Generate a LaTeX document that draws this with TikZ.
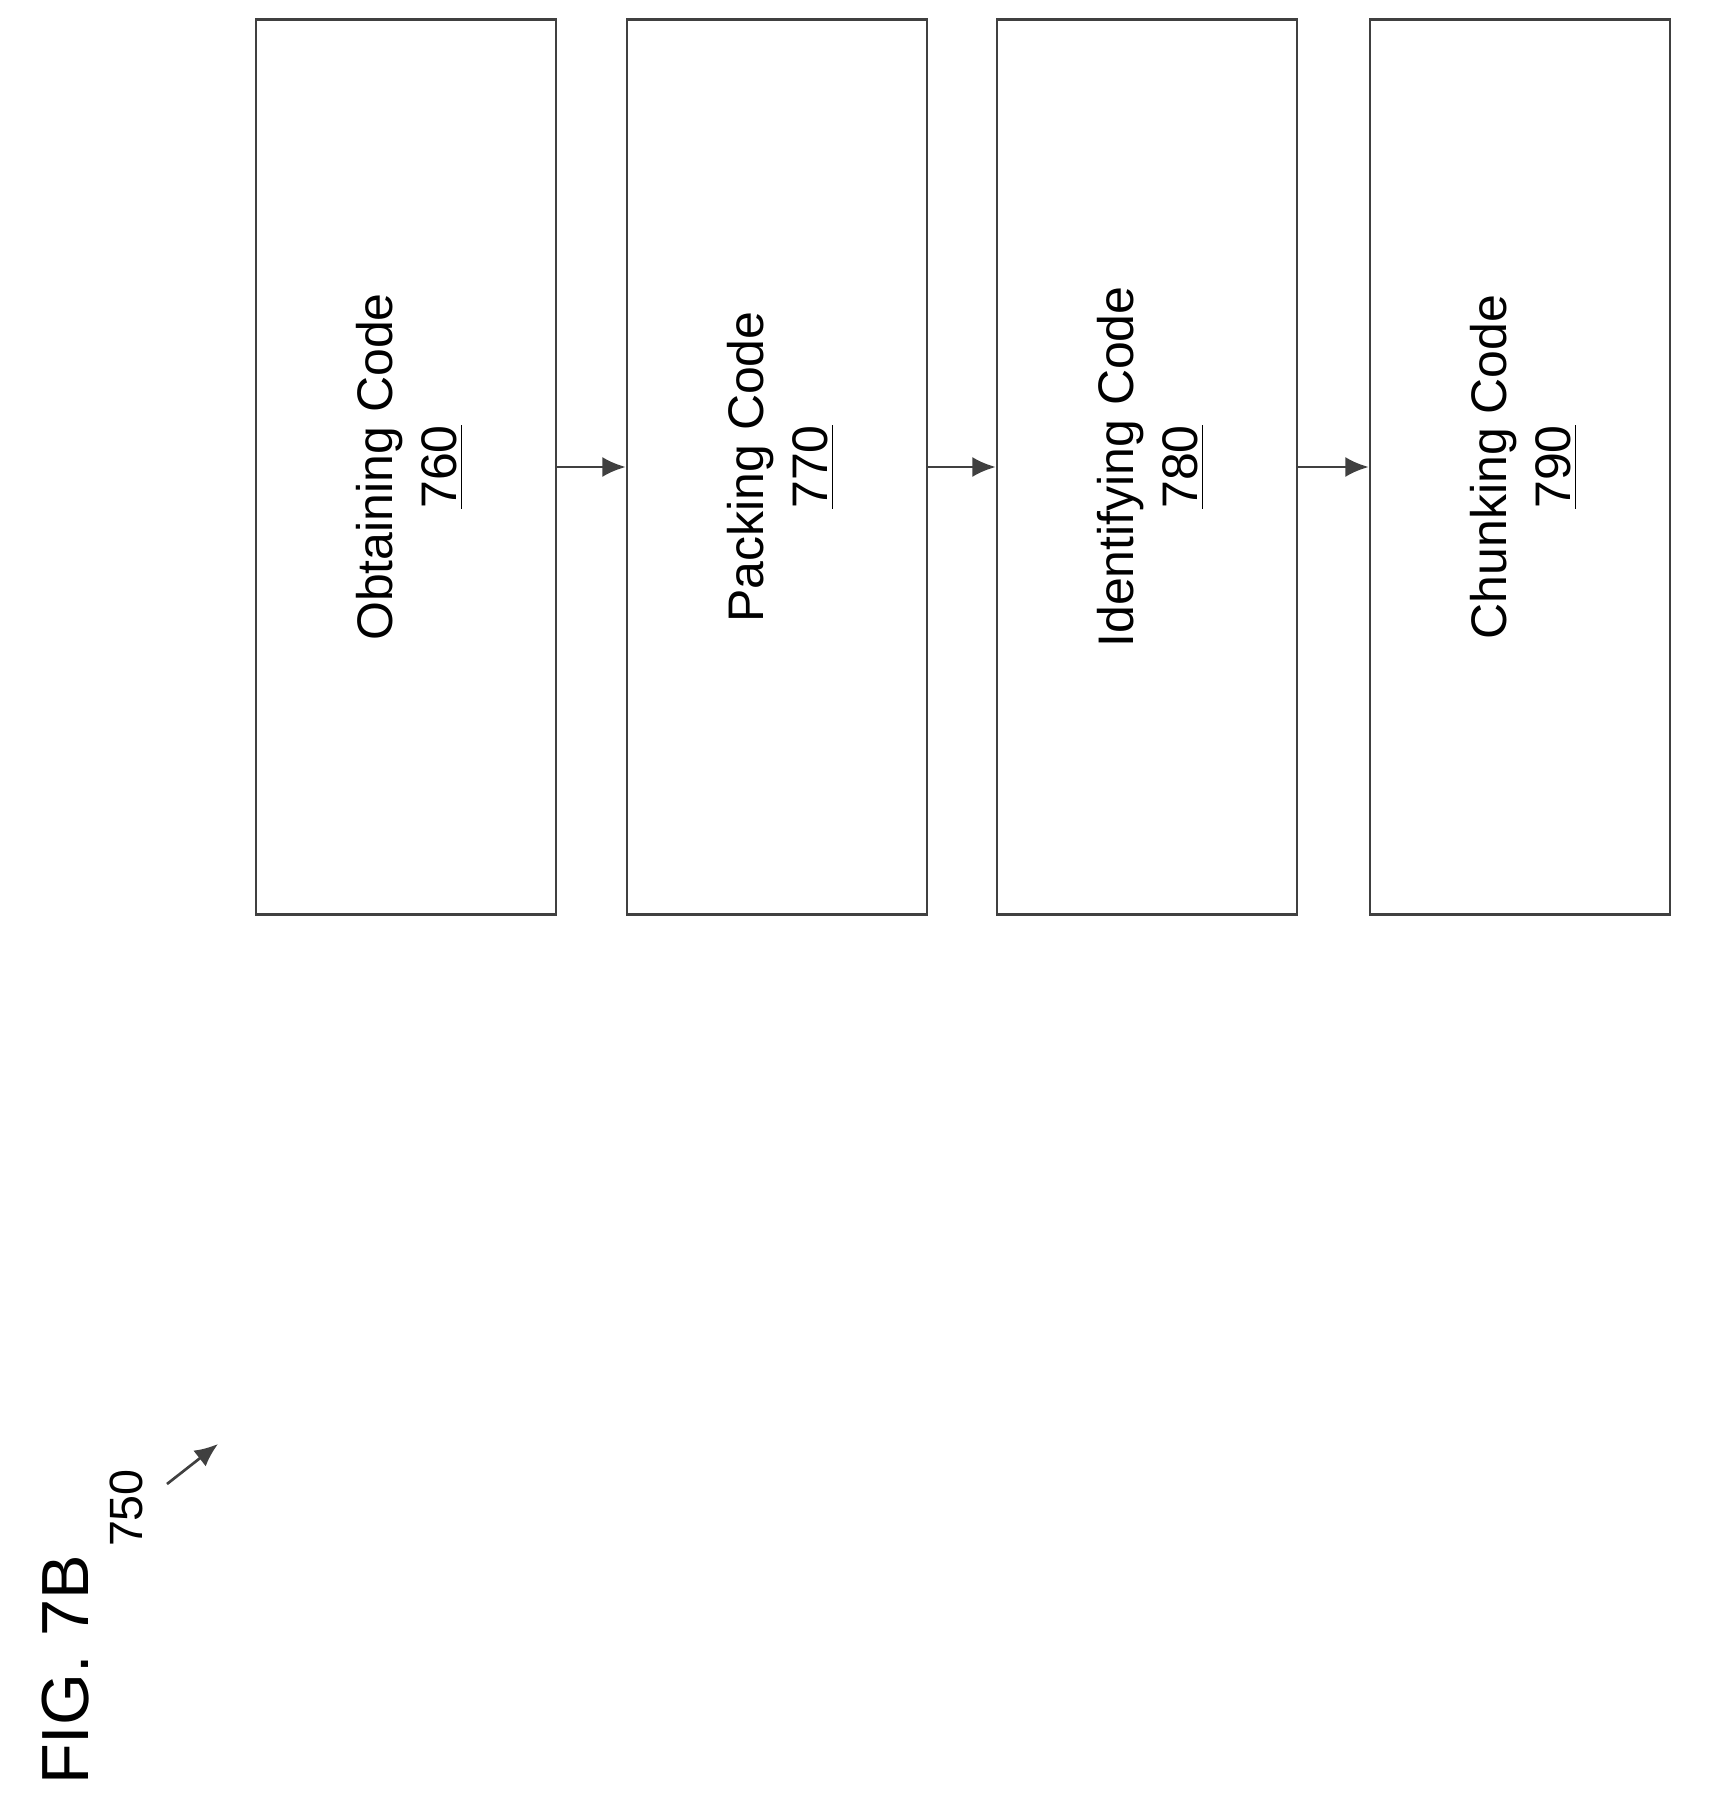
\documentclass[tikz,border=0pt]{standalone}
\usepackage{fontspec}
\setmainfont{Liberation Sans}
\usetikzlibrary{arrows.meta}
\begin{document}
\begin{tikzpicture}[x=0.3pt,y=-0.3pt,
  blk/.style={draw=black!75,line width=0.8pt,minimum width=300*0.3pt,minimum height=895*0.3pt,inner sep=0pt},
  lbl/.style={rotate=90,align=center,font=\fontsize{15}{19}\selectfont},
  conn/.style={draw=black!75,line width=0.8pt,-{Latex[length=7pt,width=6pt]}}]
\useasboundingbox (0,0) rectangle (1709,1804);
\node[blk] (b1) at (406,467) {};
\node[blk] (b2) at (777,467) {};
\node[blk] (b3) at (1147,467) {};
\node[blk] (b4) at (1520,467) {};
\node[lbl] (t1) at (410,467) {Obtaining Code\\\underline{760}};
\node[lbl] (t2) at (781,467) {Packing Code\\\underline{770}};
\node[lbl] (t3) at (1151,467) {Identifying Code\\\underline{780}};
\node[lbl] (t4) at (1524,467) {Chunking Code\\\underline{790}};
\draw[conn] (b1.east |- 0,467) -- (b2.west |- 0,467);
\draw[conn] (b2.east |- 0,467) -- (b3.west |- 0,467);
\draw[conn] (b3.east |- 0,467) -- (b4.west |- 0,467);
\node[rotate=90,font=\fontsize{20}{24}\selectfont] (fig) at (66,1670) {FIG. 7B};
\node[rotate=90,font=\fontsize{14}{17}\selectfont] (ref) at (126,1508) {750};
\coordinate (a0) at (167,1484);
\coordinate (a1) at (218,1444);
\draw[conn] (a0) -- (a1);
\end{tikzpicture}
\end{document}
